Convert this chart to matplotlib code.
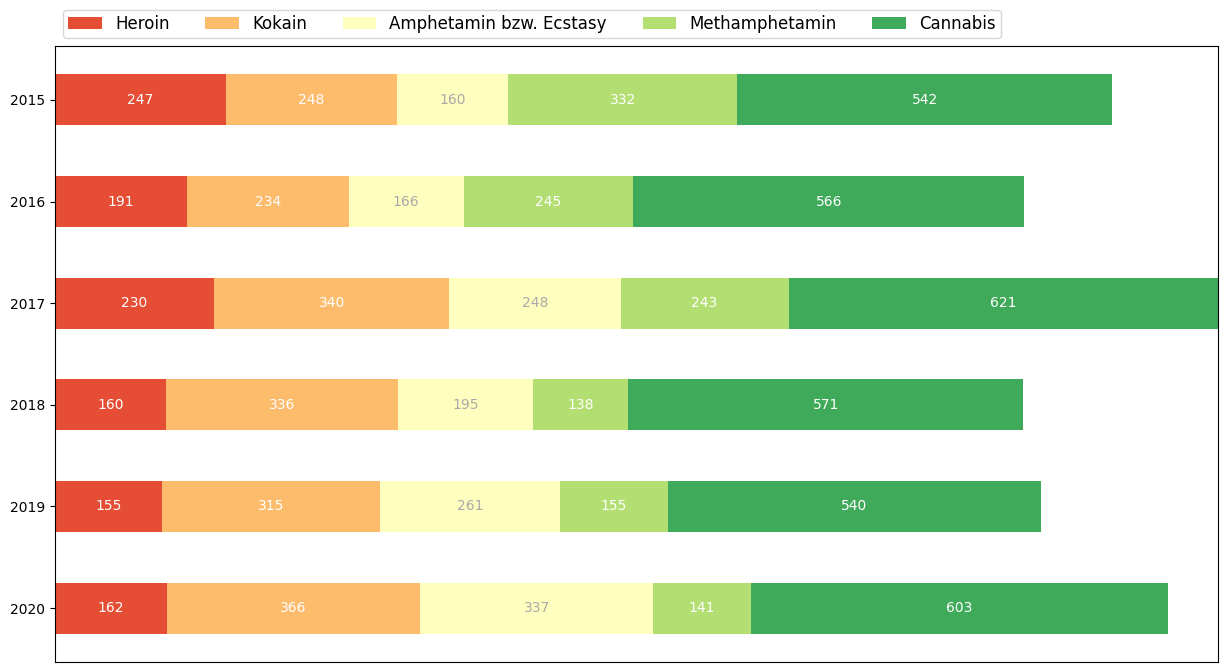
import numpy as np
import matplotlib
matplotlib.use('Agg')
from matplotlib import pyplot as plt

years = ['2015', '2016', '2017', '2018', '2019', '2020']
drugs = ['Heroin', 'Kokain', 'Amphetamin bzw. Ecstasy', 'Methamphetamin', 'Cannabis']
heroin = [247, 191, 230, 160, 155, 162]
kokain = [248, 234, 340, 336, 315, 366]
amphetamin = [160, 166, 248, 195, 261, 337]
meth = [332, 245, 243, 138, 155, 141]
cannabis = [542, 566, 621, 571, 540, 603]

series = [heroin, kokain, amphetamin, meth, cannabis]
colors = plt.cm.RdYlGn(np.linspace(0.15, 0.85, 5))
text_colors = ['white', 'white', 'darkgrey', 'white', 'white']

fig = plt.figure(figsize=(12.27, 6.72), dpi=100)
ax = fig.add_axes([0.0448, 0.0149, 0.9479, 0.9166])

y = np.arange(len(years))
left = np.zeros(len(years))
for vals, name, col, tc in zip(series, drugs, colors, text_colors):
    vals = np.array(vals)
    bars = ax.barh(y, vals, left=left, height=0.5, color=col, label=name)
    ax.bar_label(bars, labels=[str(v) for v in vals], label_type='center', color=tc, fontsize=10)
    left = left + vals

ax.set_yticks(y)
ax.set_yticklabels(years)
ax.set_xticks([])
ax.set_xlim(0, left.max())
ax.set_ylim(5.53, -0.53)
ax.legend(loc='lower left', bbox_to_anchor=(0.0, 1.0), ncol=5, fontsize=12,
          columnspacing=2.15, borderpad=0.3)

fig.savefig('out.png')
